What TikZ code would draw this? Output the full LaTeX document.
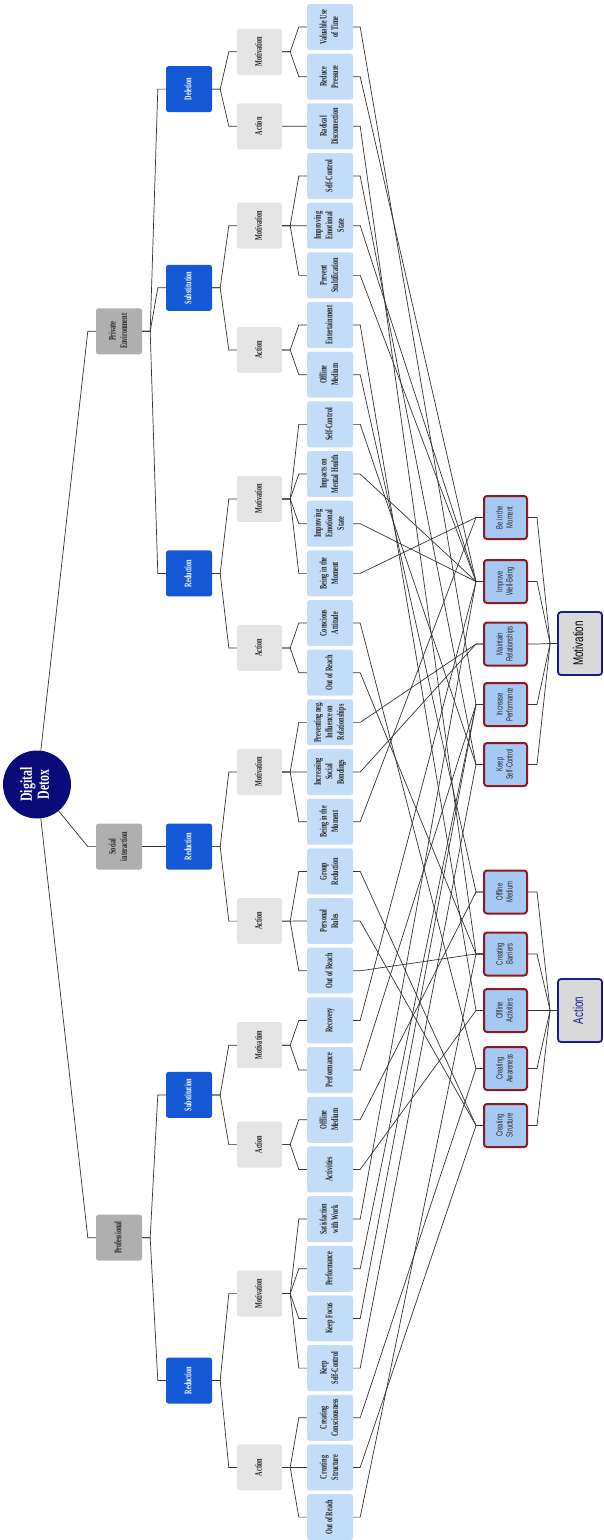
\documentclass[tikz,border=0pt]{standalone}
\usepackage{fontspec}
\usepackage{graphicx}
\setmainfont{Liberation Serif}
\newfontfamily\goalfont{Liberation Sans}
\usepackage{tikz}

\definecolor{rootblue}{HTML}{0B0B7A}
\definecolor{catgray}{HTML}{AFAFAF}
\definecolor{methblue}{HTML}{1558D6}
\definecolor{kindgray}{HTML}{E4E4E4}
\definecolor{leafblue}{HTML}{C3DDF8}
\definecolor{goalblue}{HTML}{A6C9F3}
\definecolor{goalred}{HTML}{8E1A1F}
\definecolor{sumgray}{HTML}{D9D9D9}
\definecolor{sumnavy}{HTML}{1C1C8C}

\newcommand{\vtext}[2][0.62]{\rotatebox{90}{\scalebox{#1}[1]{\begin{tabular}{@{}c@{}}#2\end{tabular}}}}

\begin{document}
\begin{tikzpicture}[x=1pt, y=-1pt,
	box/.style={rounded corners=2.5pt, minimum width=46, minimum height=46, inner sep=0pt, font=\fontsize{10}{11.5}\selectfont\bfseries},
	leaf/.style={box, fill=leafblue, text=black!85},
	cat/.style={box, fill=catgray, text=black!85},
	meth/.style={box, fill=methblue, text=white},
	kind/.style={box, fill=kindgray, text=black!85, minimum width=45},
	goal/.style={draw=goalred, line width=2pt, fill=goalblue, rounded corners=3pt, minimum width=43, minimum height=43, inner sep=0pt, text=black!85, font=\goalfont\fontsize{9}{10}\selectfont},
	sum/.style={draw=sumnavy, line width=1.8pt, fill=sumgray, rounded corners=3pt, minimum width=44, minimum height=63, inner sep=0pt, font=\goalfont\fontsize{14}{15}\selectfont},
	tree/.style={draw=black!80, line width=0.7pt}]
	\useasboundingbox (0,0) rectangle (604,1540);

	\node[circle, fill=rootblue, minimum size=68, inner sep=0pt, text=white, font=\fontsize{17}{17}\selectfont\bfseries] (root) at (37,784.5) {\vtext[0.7]{Digital\\Detox}};

	\node[cat] (prv) at (119,331.3) {\vtext{Private\\Environment}};
	\node[cat] (soc) at (119,846.6) {\vtext{Social\\interaction}};
	\node[cat] (pro) at (119,1237.7) {\vtext{Professional}};

	\node[meth] (prvdel) at (189,89.1) {\vtext{Deletion}};
	\node[meth] (prvsub) at (189,287.8) {\vtext{Substitution}};
	\node[meth] (prvred) at (189,573.4) {\vtext{Reduction}};
	\node[meth] (socred) at (189,846.6) {\vtext{Reduction}};
	\node[meth] (prosub) at (189,1094.9) {\vtext{Substitution}};
	\node[meth] (prored) at (189,1380.5) {\vtext{Reduction}};

	\node[kind] (prvdelM) at (259.5,51.8) {\vtext{Motivation}};
	\node[kind] (prvdelA) at (259.5,126.3) {\vtext{Action}};
	\node[kind] (prvsubM) at (259.5,225.7) {\vtext{Motivation}};
	\node[kind] (prvsubA) at (259.5,349.9) {\vtext{Action}};
	\node[kind] (prvredM) at (259.5,498.9) {\vtext{Motivation}};
	\node[kind] (prvredA) at (259.5,647.9) {\vtext{Action}};
	\node[kind] (socredM) at (259.5,772.0) {\vtext{Motivation}};
	\node[kind] (socredA) at (259.5,921.1) {\vtext{Action}};
	\node[kind] (prosubM) at (259.5,1045.2) {\vtext{Motivation}};
	\node[kind] (prosubA) at (259.5,1144.6) {\vtext{Action}};
	\node[kind] (proredM) at (259.5,1293.6) {\vtext{Motivation}};
	\node[kind] (proredA) at (259.5,1467.4) {\vtext{Action}};

	\foreach \i/\t in {0/{Valuable Use\\of Time}, 1/{Reduce\\Pressure}, 2/{Radical\\Disconnection},
		3/{Self-Control}, 4/{Improving\\Emotional\\State}, 5/{Prevent\\Stultification},
		6/{Entertainment}, 7/{Offline\\Medium}, 8/{Self-Control}, 9/{Impacts on\\Mental Health},
		10/{Improving\\Emotional\\State}, 11/{Being in the\\Moment}, 12/{Conscious\\Attitude},
		13/{Out of Reach}, 14/{Preventing neg.\\Influence on\\Relationships}, 15/{Increasing\\Social\\Bondings},
		16/{Being in the\\Moment}, 17/{Group\\Reduction}, 18/{Personal\\Rules}, 19/{Out of Reach},
		20/{Recovery}, 21/{Performance}, 22/{Offline\\Medium}, 23/{Activities},
		24/{Satisfaction\\with Work}, 25/{Performance}, 26/{Keep Focus}, 27/{Keep\\Self-Control},
		28/{Creating\\Consciousness}, 29/{Creating\\Structure}, 30/{Out of Reach}}
		\node[leaf] (l\i) at (330,27+49.67*\i) {\vtext{\t}};

	\node[goal] (bim) at (505.5,517.5) {\vtext[0.65]{Be in the\\Moment}};
	\node[goal] (iwb) at (505.5,581.5) {\vtext[0.65]{Improve\\Well-Being}};
	\node[goal] (mr) at (505.5,644) {\vtext[0.65]{Maintain\\Relationships}};
	\node[goal] (ip) at (505.5,704.5) {\vtext[0.65]{Increase\\Performance}};
	\node[goal] (ksc) at (505.5,764.5) {\vtext[0.65]{Keep\\Self-Control}};

	\node[goal] (om) at (505.5,892) {\vtext[0.65]{Offline\\Medium}};
	\node[goal] (cb) at (505.5,954) {\vtext[0.65]{Creating\\Barriers}};
	\node[goal] (oa) at (505.5,1010.5) {\vtext[0.65]{Offline\\Activities}};
	\node[goal] (ca) at (505.5,1068.5) {\vtext[0.65]{Creating\\Awareness}};
	\node[goal] (cs) at (505.5,1125.5) {\vtext[0.65]{Creating\\Structure}};

	\node[sum] (mot) at (580,643.5) {\vtext[0.7]{Motivation}};
	\node[sum, text=sumnavy] (act) at (580,1010.5) {\vtext[0.7]{Action}};

	\foreach \c in {prv, soc, pro}
		\draw[tree] (root) -- ([xshift=-8pt]\c.west) -- (\c.west);
	\foreach \p/\c in {prv/prvdel, prv/prvsub, prv/prvred, soc/socred, pro/prosub, pro/prored,
		prvdel/prvdelM, prvdel/prvdelA, prvsub/prvsubM, prvsub/prvsubA, prvred/prvredM, prvred/prvredA,
		socred/socredM, socred/socredA, prosub/prosubM, prosub/prosubA, prored/proredM, prored/proredA,
		prvdelM/l0, prvdelM/l1, prvdelA/l2, prvsubM/l3, prvsubM/l4, prvsubM/l5, prvsubA/l6, prvsubA/l7,
		prvredM/l8, prvredM/l9, prvredM/l10, prvredM/l11, prvredA/l12, prvredA/l13,
		socredM/l14, socredM/l15, socredM/l16, socredA/l17, socredA/l18, socredA/l19,
		prosubM/l20, prosubM/l21, prosubA/l22, prosubA/l23,
		proredM/l24, proredM/l25, proredM/l26, proredM/l27, proredA/l28, proredA/l29, proredA/l30}
		\draw[tree] (\p.east) -- ++(8,0) -- ([xshift=-8pt]\c.west) -- (\c.west);

	\foreach \i/\g in {0/ip, 1/iwb, 2/cb, 3/ksc, 4/iwb, 5/iwb, 6/oa, 7/om, 8/ksc, 9/iwb, 10/iwb,
		11/bim, 12/ca, 13/cb, 14/mr, 15/mr, 16/bim, 17/cs, 18/cs, 19/cb, 20/iwb, 21/ip, 22/om,
		23/oa, 24/iwb, 25/ip, 26/ip, 27/ksc, 28/ca, 29/cs, 30/cb}
		\draw[tree] (l\i.east) -- ++(7,0) -- ([xshift=-7pt]\g.west) -- (\g.west);

	\foreach \g in {bim, iwb, mr, ip, ksc}
		\draw[tree] (mot.west) -- ++(-7,0) -- ([xshift=9pt]\g.east) -- (\g.east);
	\foreach \g in {om, cb, oa, ca, cs}
		\draw[tree] (act.west) -- ++(-7,0) -- ([xshift=9pt]\g.east) -- (\g.east);
\end{tikzpicture}
\end{document}
